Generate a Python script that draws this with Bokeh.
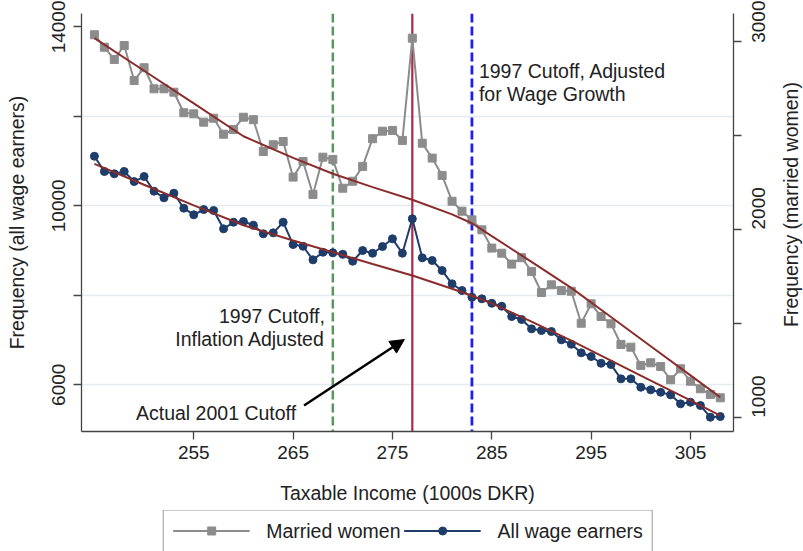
import math
from bokeh.plotting import figure
from bokeh.layouts import column, row
from bokeh.models import (Range1d, LinearAxis, FixedTicker, Span, Label, Arrow,
                          NormalHead, Legend, LegendItem)
from bokeh.embed import file_html
from bokeh.resources import INLINE

# taxable income bins (1000s DKR)
income = [245, 246, 247, 248, 249, 250, 251, 252, 253, 254, 255, 256, 257, 258, 259, 260,
          261, 262, 263, 264, 265, 266, 267, 268, 269, 270, 271, 272, 273, 274, 275, 276,
          277, 278, 279, 280, 281, 282, 283, 284, 285, 286, 287, 288, 289, 290, 291, 292,
          293, 294, 295, 296, 297, 298, 299, 300, 301, 302, 303, 304, 305, 306, 307, 308]

# frequency, married women (right axis)
married_women = [3034, 2968, 2903, 2977, 2791, 2859, 2747, 2747, 2729, 2620, 2614, 2570,
                 2591, 2506, 2531, 2596, 2583, 2414, 2450, 2467, 2278, 2361, 2186, 2384,
                 2372, 2219, 2256, 2335, 2482, 2522, 2526, 2473, 3016, 2458, 2379, 2287,
                 2150, 2097, 2051, 1998, 1901, 1874, 1816, 1850, 1777, 1665, 1706, 1676,
                 1672, 1502, 1605, 1538, 1499, 1389, 1375, 1278, 1292, 1272, 1202, 1260,
                 1194, 1154, 1124, 1106]

# frequency, all wage earners (left axis)
all_wage_earners = [11108, 10766, 10715, 10766, 10542, 10654, 10326, 10178, 10281, 9946,
                    9798, 9917, 9894, 9485, 9633, 9648, 9566, 9374, 9396, 9633, 9134, 9096,
                    8792, 8962, 8949, 8918, 8761, 9000, 8940, 9090, 9262, 8940, 9709, 8837,
                    8777, 8553, 8256, 8106, 7957, 7921, 7822, 7755, 7525, 7458, 7250, 7212,
                    7190, 7004, 6906, 6714, 6631, 6481, 6452, 6133, 6133, 5945, 5887, 5833,
                    5775, 5574, 5610, 5536, 5275, 5290]

fit_income = [245, 250, 255, 260, 265, 269, 273, 277, 281, 283, 285, 289, 293, 297, 301, 305, 308]
fit_married = [3016, 2843, 2670, 2495, 2380, 2296, 2225, 2158, 2080, 2033, 1965, 1828, 1690,
               1535, 1380, 1225, 1109]
fit_all = [10938, 10470, 10010, 9565, 9225, 8962, 8700, 8442, 8145, 7990, 7820, 7410, 6985,
           6540, 6095, 5650, 5313]

cutoff_inflation = 269
cutoff_actual = 277
cutoff_wage = 283

x_ticks = [255, 265, 275, 285, 295, 305]
left_ticks = [6000, 8000, 10000, 12000, 14000]
left_labels = {8000: "", 12000: ""}
right_ticks = [1000, 1500, 2000, 2500, 3000]
right_labels = {1500: "", 2500: ""}

FONT = "Liberation Sans"
TXT = "#222222"
GREY = "#8c8c8c"
NAVY = "#1f3d6b"
FIT = "#8b2c2c"

p = figure(width=780, height=510, output_backend="svg", toolbar_location=None,
           x_range=Range1d(243.7, 309.33), y_range=Range1d(4956, 14297),
           min_border_left=81, min_border_right=47, min_border_top=13, min_border_bottom=79)
p.extra_y_ranges = {"right": Range1d(927, 3147)}
p.outline_line_color = None
p.background_fill_color = "white"
p.border_fill_color = "white"
p.xgrid.visible = False
p.ygrid.ticker = FixedTicker(ticks=[6000, 8000, 10000, 12000])
p.ygrid.grid_line_color = "#e4ecef"
p.ygrid.grid_line_width = 1.3


def style_axis(ax):
    ax.axis_line_color = "#444444"
    ax.axis_line_width = 1.3
    ax.major_tick_line_color = "#444444"
    ax.major_tick_line_width = 1.3
    ax.major_tick_out = 8
    ax.major_tick_in = 0
    ax.minor_tick_line_color = None
    ax.major_label_text_font = FONT
    ax.major_label_text_font_size = "19px"
    ax.major_label_text_color = TXT
    ax.axis_label_text_font = FONT
    ax.axis_label_text_font_size = "19.5px"
    ax.axis_label_text_font_style = "normal"
    ax.axis_label_text_color = TXT


xa = p.xaxis[0]
style_axis(xa)
xa.ticker = FixedTicker(ticks=x_ticks)
xa.axis_label = "Taxable Income (1000s DKR)"
xa.major_label_standoff = 6
xa.axis_label_standoff = 20

ya = p.yaxis[0]
style_axis(ya)
ya.ticker = FixedTicker(ticks=left_ticks)
ya.major_label_overrides = left_labels
ya.major_label_orientation = "parallel"
ya.axis_label = "Frequency (all wage earners)"
ya.major_label_standoff = 8
ya.axis_label_standoff = 22

ra = LinearAxis(y_range_name="right")
style_axis(ra)
ra.ticker = FixedTicker(ticks=right_ticks)
ra.major_label_overrides = right_labels
ra.major_label_orientation = math.pi / 2
ra.major_label_standoff = 17
p.add_layout(ra, "right")

# cutoff lines
for xc, col, dash, lw in [(cutoff_inflation, "#5b9460", "9 4", 2.5),
                          (cutoff_actual, "#aa2a4a", "solid", 2.2),
                          (cutoff_wage, "#1f1fe6", "9 4", 2.8)]:
    p.add_layout(Span(location=xc, dimension="height", line_color=col,
                      line_dash=dash, line_width=lw, level="underlay"))

p.line(income, married_women, y_range_name="right", line_color=GREY, line_width=2)
p.scatter(income, married_women, y_range_name="right", marker="square", size=8,
          fill_color=GREY, line_color=GREY)
p.line(income, all_wage_earners, line_color=NAVY, line_width=2)
p.scatter(income, all_wage_earners, marker="circle", size=8, fill_color=NAVY, line_color=NAVY)

p.line(fit_income, fit_married, y_range_name="right", line_color=FIT, line_width=2)
p.line(fit_income, fit_all, line_color=FIT, line_width=2)


def note(x, y, text, align="left", dx=0):
    p.add_layout(Label(x=x, y=y, x_offset=dx, text=text, text_align=align,
                       text_baseline="middle", text_font=FONT, text_font_size="19.5px",
                       text_color=TXT))


note(cutoff_wage, 13023, "1997 Cutoff, Adjusted", dx=7)
note(cutoff_wage, 12507, "for Wage Growth", dx=7)
note(cutoff_inflation, 7548, "1997 Cutoff,", align="right", dx=-8)
note(cutoff_inflation, 7034, "Inflation Adjusted", align="right", dx=-8)
note(265.3, 5380, "Actual 2001 Cutoff", align="right")

p.add_layout(Arrow(end=NormalHead(size=14, fill_color="black", line_color="black"),
                   x_start=266.1, y_start=5536, x_end=276.2, y_end=7011,
                   line_color="black", line_width=2.5))

# right axis title, reading bottom to top as in the original
# (the row aligns this frame with the main one, so y counts from the x axis line)
side = figure(width=23, height=510, output_backend="svg", toolbar_location=None,
              x_range=Range1d(0, 1), y_range=Range1d(0, 1),
              min_border_left=0, min_border_right=0, min_border_top=0, min_border_bottom=0)
side.axis.visible = False
side.grid.visible = False
side.outline_line_color = None
side.add_layout(Label(x=10, y=227, x_units="screen", y_units="screen",
                      text="Frequency (married women)", angle=math.pi / 2,
                      text_align="center", text_baseline="middle", text_font=FONT,
                      text_font_size="19.5px", text_color=TXT))

# legend strip under the chart: same series, kept out of view, only the legend shows
leg = figure(width=803, height=41, output_backend="svg", toolbar_location=None,
             x_range=Range1d(0, 1), y_range=Range1d(0, 1),
             min_border_left=12, min_border_right=0, min_border_top=0, min_border_bottom=0)
leg.axis.visible = False
leg.grid.visible = False
leg.outline_line_color = None
g_line = leg.line(income, married_women, line_color=GREY, line_width=2)
g_pts = leg.scatter(income, married_women, marker="square", size=8,
                    fill_color=GREY, line_color=GREY)
b_line = leg.line(income, all_wage_earners, line_color=NAVY, line_width=2)
b_pts = leg.scatter(income, all_wage_earners, marker="circle", size=8,
                    fill_color=NAVY, line_color=NAVY)

legend = Legend(items=[LegendItem(label="Married women", renderers=[g_line, g_pts]),
                       LegendItem(label="All wage earners", renderers=[b_line, b_pts])],
                orientation="horizontal", location="center",
                label_text_font=FONT, label_text_font_size="19.5px", label_text_color=TXT,
                glyph_width=77, glyph_height=20, label_standoff=17, spacing=3,
                padding=9, margin=0, border_line_color="#333333", border_line_width=1.2,
                background_fill_color="white")
leg.add_layout(legend)

page = column(row(p, side, spacing=0), leg, spacing=0)
open("out.html", "w").write(file_html(page, INLINE))
